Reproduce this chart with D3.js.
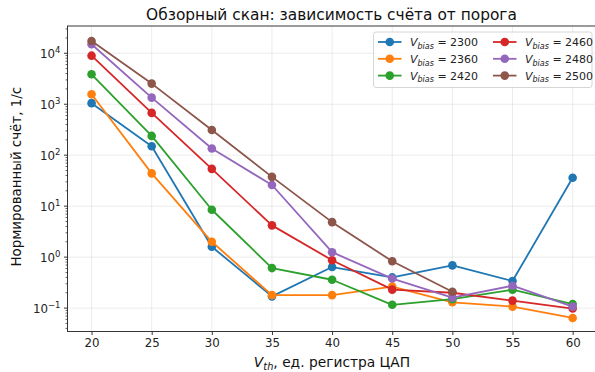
<!DOCTYPE html>
<html>
<head>
<meta charset="utf-8">
<script src="https://cdn.jsdelivr.net/npm/d3@7"></script>
<style>
  html, body { margin: 0; padding: 0; background: #fff; }
  svg { display: block; font-family: "DejaVu Sans", sans-serif; }
</style>
</head>
<body>
<div id="chart"></div>
<script>
// Обзорный скан: счёт vs порог
const thresholds = [20, 25, 30, 35, 40, 45, 50, 55, 60];
const biasLabels = ['2300', '2360', '2420', '2460', '2480', '2500'];
const v2300 = [1050, 150, 1.6, 0.17, 0.64, 0.40, 0.69, 0.34, 36];
const v2360 = [1570, 44, 2.0, 0.18, 0.18, 0.265, 0.13, 0.107, 0.064];
const v2420 = [3870, 239, 8.5, 0.61, 0.36, 0.116, 0.15, 0.23, 0.12];
const v2460 = [8970, 676, 54, 4.2, 0.87, 0.23, 0.20, 0.14, 0.098];
const v2480 = [15000, 1350, 135, 26, 1.25, 0.38, 0.16, 0.275, 0.107];
const v2500 = [17400, 2540, 313, 37.6, 4.86, 0.83, 0.21, null, null];
const xTicks = [20, 25, 30, 35, 40, 45, 50, 55, 60];
const yExps = [-1, 0, 1, 2, 3, 4];

const COLORS = ['#1f77b4', '#ff7f0e', '#2ca02c', '#d62728', '#9467bd', '#8c564b'];
const seriesVals = [v2300, v2360, v2420, v2460, v2480, v2500];

const W = 595, H = 372;
const M = { top: 26, left: 67.5, bottom: 331.5, right: 596.7 };

const svg = d3.select('#chart').append('svg')
  .attr('width', W).attr('height', H);

const x = d3.scaleLinear().domain([18, 62]).range([M.left, M.right]);
const y = d3.scaleLog()
  .domain([Math.pow(10, -1.459), Math.pow(10, 4.535)])
  .range([M.bottom, M.top]);

// ── grid ────────────────────────────────────────────────────────────────
const grid = svg.append('g');
xTicks.forEach(t => {
  grid.append('line')
    .attr('x1', x(t)).attr('x2', x(t))
    .attr('y1', M.top).attr('y2', M.bottom)
    .attr('stroke', '#b0b0b0').attr('stroke-opacity', 0.3).attr('stroke-width', 0.8);
});
yExps.forEach(e => {
  const v = Math.pow(10, e);
  grid.append('line')
    .attr('x1', M.left).attr('x2', M.right)
    .attr('y1', y(v)).attr('y2', y(v))
    .attr('stroke', '#b0b0b0').attr('stroke-opacity', 0.3).attr('stroke-width', 0.8);
});

// ── axes ────────────────────────────────────────────────────────────────
svg.append('g').attr('transform', `translate(0,${M.bottom})`)
  .call(d3.axisBottom(x).tickValues(xTicks).tickSize(3.5).tickPadding(4).tickFormat(d3.format('d')))
  .call(ax => ax.select('.domain').remove())
  .call(ax => ax.selectAll('line').attr('stroke', '#000').attr('stroke-width', 0.8))
  .call(ax => ax.selectAll('text').attr('fill', '#222').attr('font-size', 11.8)
    .attr('font-family', '"DejaVu Sans", sans-serif'));

// minor ticks (log)
const minor = [];
for (let e = -2; e <= 4; e++) {
  for (let k = 2; k <= 9; k++) {
    const v = k * Math.pow(10, e);
    if (v >= y.domain()[0] && v <= y.domain()[1]) minor.push(v);
  }
}
const yAxisG = svg.append('g').attr('transform', `translate(${M.left},0)`);
yAxisG.selectAll('.minor').data(minor).join('line')
  .attr('class', 'minor')
  .attr('x1', -2).attr('x2', 0)
  .attr('y1', d => y(d)).attr('y2', d => y(d))
  .attr('stroke', '#000').attr('stroke-width', 0.6);
yAxisG.selectAll('.major').data(yExps).join('line')
  .attr('class', 'major')
  .attr('x1', -3.5).attr('x2', 0)
  .attr('y1', d => y(Math.pow(10, d))).attr('y2', d => y(Math.pow(10, d)))
  .attr('stroke', '#000').attr('stroke-width', 0.8);
const yLab = yAxisG.selectAll('.ylab').data(yExps).join('text')
  .attr('class', 'ylab')
  .attr('x', -7).attr('y', d => y(Math.pow(10, d)) + 4.5)
  .attr('text-anchor', 'end')
  .attr('fill', '#222').attr('font-size', 11.8);
yLab.append('tspan').text('10');
yLab.append('tspan').attr('dy', -5).attr('font-size', 8.5)
  .text(d => d < 0 ? '\u2212' + Math.abs(d) : String(d));

// frame
svg.append('rect')
  .attr('x', M.left).attr('y', M.top)
  .attr('width', M.right - M.left).attr('height', M.bottom - M.top)
  .attr('fill', 'none').attr('stroke', '#222').attr('stroke-width', 0.9);

// ── series ──────────────────────────────────────────────────────────────
const line = d3.line()
  .defined(d => d.v != null)
  .x(d => x(d.t)).y(d => y(d.v));

seriesVals.forEach((vals, i) => {
  const pts = thresholds.map((t, j) => ({ t, v: vals[j] }));
  const g = svg.append('g');
  g.append('path')
    .attr('d', line(pts))
    .attr('fill', 'none').attr('stroke', COLORS[i]).attr('stroke-width', 1.8)
    .attr('stroke-linejoin', 'round');
  g.selectAll('circle').data(pts.filter(d => d.v != null)).join('circle')
    .attr('cx', d => x(d.t)).attr('cy', d => y(d.v))
    .attr('r', 4.3).attr('fill', COLORS[i]);
});

// ── legend ──────────────────────────────────────────────────────────────
const lg = svg.append('g');
lg.append('rect')
  .attr('x', 373.5).attr('y', 32).attr('width', 218.5).attr('height', 55.5)
  .attr('rx', 2.5)
  .attr('fill', '#fff').attr('fill-opacity', 0.8)
  .attr('stroke', '#cccccc').attr('stroke-width', 0.8);
biasLabels.forEach((b, i) => {
  const col = Math.floor(i / 3), row = i % 3;
  const lx = 378 + col * 115, ly = 42 + row * 16.8;
  lg.append('line').attr('x1', lx).attr('x2', lx + 23.5).attr('y1', ly).attr('y2', ly)
    .attr('stroke', COLORS[i]).attr('stroke-width', 1.8);
  lg.append('circle').attr('cx', lx + 11.75).attr('cy', ly).attr('r', 4.3).attr('fill', COLORS[i]);
  const t = lg.append('text').attr('x', lx + 32).attr('y', ly + 4.2)
    .attr('fill', '#222').attr('font-size', 11);
  t.append('tspan').attr('font-style', 'italic').text('V');
  t.append('tspan').attr('font-style', 'italic').attr('font-size', 8).attr('dy', 2.5).text('bias');
  t.append('tspan').attr('dy', -2.5).text(' = ' + b);
});

// ── labels ──────────────────────────────────────────────────────────────
svg.append('text')
  .attr('x', 331.5).attr('y', 20)
  .attr('text-anchor', 'middle').attr('fill', '#111').attr('font-size', 15.4)
  .text('Обзорный скан: зависимость счёта от порога');

const xl = svg.append('text')
  .attr('x', 332).attr('y', 367)
  .attr('text-anchor', 'middle').attr('fill', '#111').attr('font-size', 13.8);
xl.append('tspan').attr('font-style', 'italic').text('V');
xl.append('tspan').attr('font-style', 'italic').attr('font-size', 9.8).attr('dy', 3).text('th');
xl.append('tspan').attr('dy', -3).text(', ед. регистра ЦАП');

svg.append('text')
  .attr('transform', `translate(21,${(M.top + M.bottom) / 2 - 2}) rotate(-90)`)
  .attr('text-anchor', 'middle').attr('fill', '#111').attr('font-size', 13.4)
  .text('Нормированный счёт, 1/с');
</script>
</body>
</html>
